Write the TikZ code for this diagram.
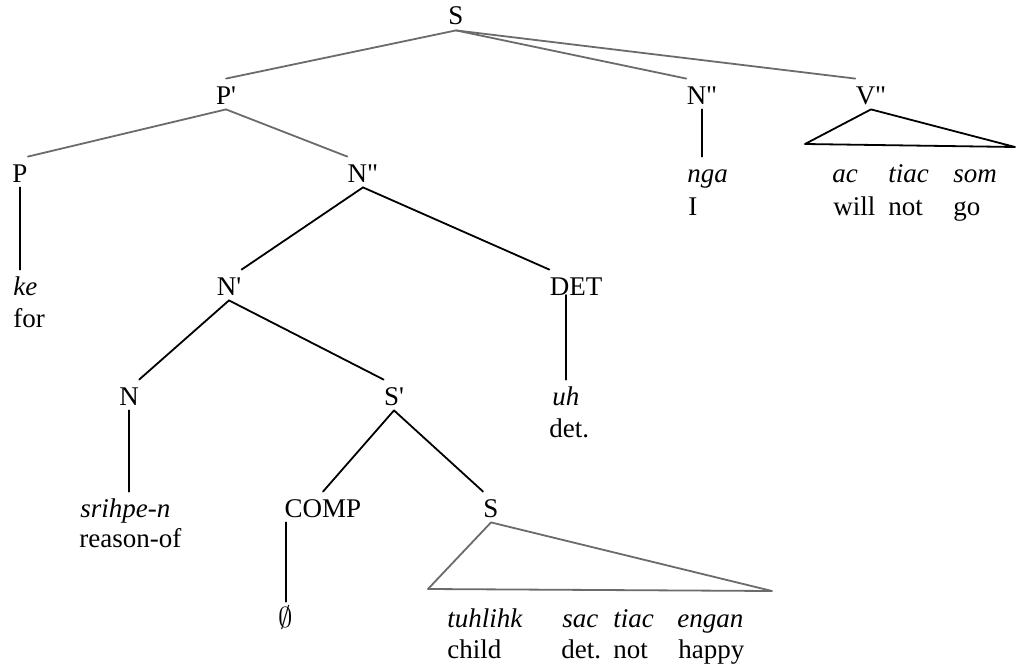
\documentclass[tikz,border=0pt]{standalone}
\usepackage{fontspec}
\setmainfont{Liberation Serif}
\usepackage{tikz}

\begin{document}
\begin{tikzpicture}[
  x=0.5pt, y=-0.5pt,
  font=\fontsize{13.5pt}{16pt}\selectfont,
  lab/.style  ={inner xsep=0pt, inner ysep=2.5pt, text height=10pt,
                text depth=0pt, anchor=base},
  word/.style ={lab, anchor=base west,
                font=\fontsize{13.5pt}{16pt}\selectfont\itshape},
  gloss/.style={lab, anchor=base west},
  edge/.style ={line width=0.9pt, line cap=round, line join=round},
  faint/.style={edge, black!58},
]

\useasboundingbox (0,0) rectangle (1022,669);

% baselines of the rows
\def\ra{25}
\def\rb{104}
\def\rc{182}
\def\rd{215}
\def\re{295}
\def\rf{327}
\def\rg{405}
\def\rh{437}
\def\ri{517}
\def\rj{547}
\def\rk{627}
\def\rl{658}

% categories
\node[lab] (s0)   at (456,\ra) {S};
\node[lab] (pbar) at (226,\rb) {P\textquotesingle};
\node[lab] (nppr) at (702,\rb) {N\textquotedbl};
\node[lab] (vpp)  at (871,\rb) {V\textquotedbl};
\node[lab] (p)    at (20,\rc)  {P};
\node[lab] (npp)  at (363,\rc) {N\textquotedbl};
\node[lab] (nbar) at (229,\re) {N\textquotesingle};
\node[lab] (det)  at (576,\re) {DET};
\node[lab] (n)    at (129,\rg) {N};
\node[lab] (sbar) at (394,\rg) {S\textquotesingle};
\node[lab] (comp) at (323,\ri) {COMP};
\node[lab] (s1)   at (491,\ri) {S};

% words and glosses
\node[word]  (ke)     at (13,\re)  {ke};
\node[gloss] (gfor)   at (13,\rf)  {for};
\node[word]  (nga)    at (687,\rc) {nga};
\node[gloss] (gi)     at (688,\rd) {I};
\node[word]  (ac)     at (832,\rc) {ac};
\node[word]  (tiac)   at (888,\rc) {tiac};
\node[word]  (som)    at (953,\rc) {som};
\node[gloss] (gwill)  at (833,\rd) {will};
\node[gloss] (gnot)   at (888,\rd) {not};
\node[gloss] (ggo)    at (953,\rd) {go};
\node[word]  (uh)     at (552,\rg) {uh};
\node[gloss] (gdet)   at (549,\rh) {det.};
\node[word]  (srihpe) at (80,\ri)  {srihpe-n};
\node[gloss] (greas)  at (79,\rj)  {reason-of};
\node[lab]   (empty)  at (286,\rk) {$\emptyset$};
\node[word]  (tuh)    at (447,\rk) {tuhlihk};
\node[word]  (sac)    at (562,\rk) {sac};
\node[word]  (tiacb)  at (613,\rk) {tiac};
\node[word]  (engan)  at (677,\rk) {engan};
\node[gloss] (gchild) at (447,\rl) {child};
\node[gloss] (gdetb)  at (561,\rl) {det.};
\node[gloss] (gnotb)  at (613,\rl) {not};
\node[gloss] (ghappy) at (678,\rl) {happy};

% triangle corners
\coordinate (vl) at (805,144);
\coordinate (vr) at (1015,147);
\coordinate (sl) at (428,589);
\coordinate (sr) at (772,591);

% branches
\draw[faint] (s0.south) -- (pbar.north);
\draw[faint] (s0.south) -- (nppr.north west);
\draw[faint] (s0.south) -- (vpp.north west);
\draw[faint] (pbar.south) -- (p.north east);
\draw[faint] (pbar.south) -- (npp.north west);
\draw[edge] (npp.south) -- (nbar.north east);
\draw[edge] (npp.south) -- (det.north west);
\draw[edge] (nbar.south) -- (n.north east);
\draw[edge] (nbar.south) -- (sbar.north west);
\draw[edge] (sbar.south) -- (comp.north);
\draw[edge] (sbar.south) -- (s1.north west);

% unary branches
\draw[edge] (p.south) -- (p.south |- ke.north);
\draw[edge] (nppr.south) -- (nppr.south |- nga.north);
\draw[edge] (n.south) -- (n.south |- srihpe.north);
\draw[edge] (uh.north |- det.base) -- (uh.north);
\draw[edge] (empty.north |- comp.south) -- (empty.north);

% triangles
\draw[edge] (vpp.south) -- (vl) -- (vr) -- cycle;
\draw[faint] (s1.south) -- (sl) -- (sr) -- cycle;

\end{tikzpicture}
\end{document}
